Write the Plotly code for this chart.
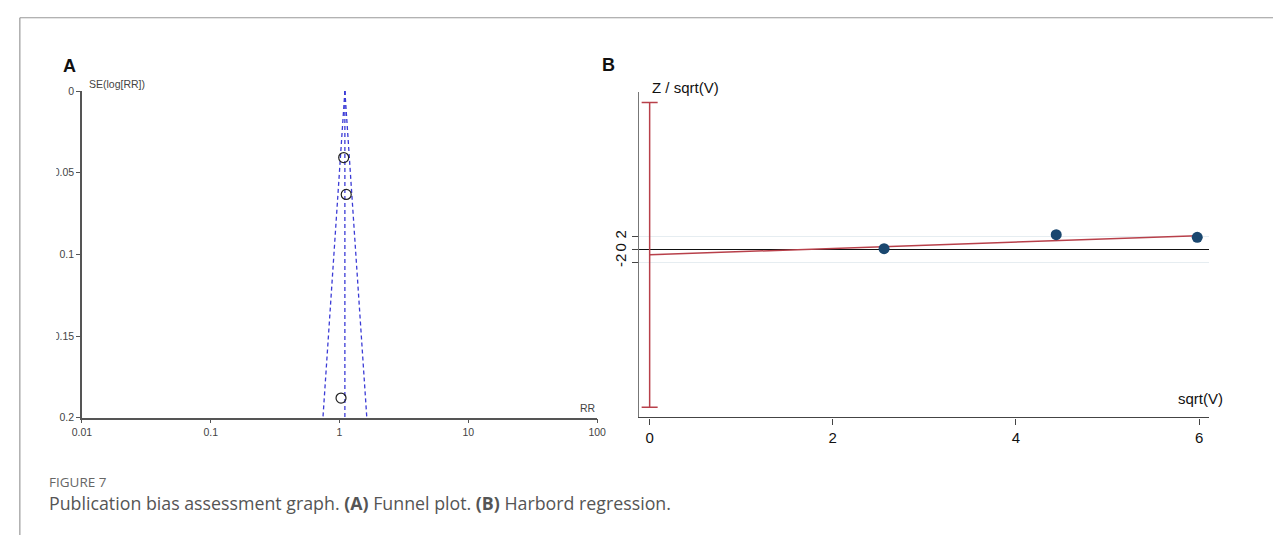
import numpy as np
import plotly.graph_objects as go

# ---------------- Panel A: funnel plot data ----------------
study_rr = [1.077, 1.127, 1.027]
study_se = [0.0407, 0.0633, 0.188]
pooled_rr = 1.10
se_range = [0.0, 0.2]
a_xticks = [0.01, 0.1, 1, 10, 100]
a_xticklabels = ["0.01", "0.1", "1", "10", "100"]
a_yticks = [0, 0.05, 0.1, 0.15, 0.2]
a_yticklabels = ["0", "0.05", "0.1", "0.15", "0.2"]

# ---------------- Panel B: Harbord regression data ----------------
sqrt_v = [2.56, 4.44, 5.98]
z_over_sqrt_v = [0.15, 2.3, 1.9]
intercept = -0.8
intercept_ci = [-24.25, 22.65]
slope = 0.493
b_xticks = [0, 2, 4, 6]
b_yticks = [-2, 0, 2]
b_yticklabels = ["-2", "0", "2"]

W, H = 1282, 541


def px(x):
    return x / W


def py(y):
    return 1 - y / H


fig = go.Figure()

# funnel lines (pseudo 95% CI) computed from pooled estimate
se_line = np.array(se_range)
lo = np.exp(np.log(pooled_rr) - 1.96 * se_line)
hi = np.exp(np.log(pooled_rr) + 1.96 * se_line)
blue = "#3b3bd6"
dash = "4px,3px"
for xs in (lo, hi, [pooled_rr, pooled_rr]):
    fig.add_trace(go.Scatter(x=xs, y=se_line, mode="lines", line=dict(color=blue, width=1.3, dash=dash),
                             xaxis="x", yaxis="y", showlegend=False, hoverinfo="skip"))
fig.add_trace(go.Scatter(x=study_rr, y=study_se, mode="markers",
                         marker=dict(symbol="circle-open", size=10, color="#222222", line=dict(width=1.2)),
                         xaxis="x", yaxis="y", showlegend=False))

# Panel B traces
red = "#b8404a"
fig.add_trace(go.Scatter(x=[0], y=[intercept], mode="lines",
                         error_y=dict(type="data", symmetric=False,
                                      array=[intercept_ci[1] - intercept],
                                      arrayminus=[intercept - intercept_ci[0]],
                                      color=red, thickness=1.5, width=8),
                         xaxis="x2", yaxis="y2", showlegend=False, hoverinfo="skip"))
fit_x = np.array([0, max(sqrt_v)])
fig.add_trace(go.Scatter(x=fit_x, y=intercept + slope * fit_x, mode="lines",
                         line=dict(color=red, width=1.5),
                         xaxis="x2", yaxis="y2", showlegend=False, hoverinfo="skip"))
fig.add_trace(go.Scatter(x=sqrt_v, y=z_over_sqrt_v, mode="markers",
                         marker=dict(size=11, color="#1a476f"),
                         xaxis="x2", yaxis="y2", showlegend=False))

axfont = dict(family="Arial, Liberation Sans, sans-serif", size=10.5, color="#444")
bfont = dict(family="Arial, Liberation Sans, sans-serif", size=15, color="#111")

fig.update_layout(
    width=W, height=H, autosize=False,
    margin=dict(l=0, r=0, t=0, b=0),
    paper_bgcolor="white", plot_bgcolor="white",
    xaxis=dict(domain=[px(73), px(596)], type="log", range=[-2, 2], anchor="y",
               tickvals=a_xticks, ticktext=a_xticklabels, showgrid=False, zeroline=False,
               showline=True, linecolor="#555", linewidth=1.5, ticks="outside", ticklen=4,
               tickcolor="#555", tickwidth=1.2, tickfont=axfont),
    yaxis=dict(domain=[py(421), py(87)], range=[0.2, 0], autorange=False, anchor="x",
               tickvals=a_yticks, ticktext=a_yticklabels, showgrid=False, zeroline=False,
               showline=True, linecolor="#555", linewidth=1.5, ticks="outside", ticklen=4,
               tickcolor="#555", tickwidth=1.2, tickfont=axfont),
    xaxis2=dict(domain=[px(638.3), px(1217)], range=[-0.118, 6.108], anchor="y2",
                tickvals=b_xticks, showgrid=False, zeroline=False,
                showline=True, linecolor="#444", linewidth=1.3, ticks="outside", ticklen=6,
                tickcolor="#444", tickwidth=1.2, tickfont=bfont),
    yaxis2=dict(domain=[py(420.7), py(88.3)], range=[-25.8, 24.2], anchor="x2",
                tickvals=b_yticks, ticktext=b_yticklabels, showgrid=True, gridcolor="#e6edf1", gridwidth=1,
                zeroline=True, zerolinecolor="#111", zerolinewidth=1.3,
                showline=True, linecolor="#777", linewidth=1, ticks="outside", ticklen=6,
                tickcolor="#444", tickwidth=1.2, tickangle=-90, tickfont=bfont),
)

ann = []
ann.append(dict(x=px(78), y=py(80), xref="paper", yref="paper", text="SE(log[RR])", showarrow=False,
                xanchor="left", yanchor="middle", font=axfont))
ann.append(dict(x=px(587), y=py(411), xref="paper", yref="paper", text="RR", showarrow=False,
                xanchor="center", yanchor="middle", font=axfont))
ann.append(dict(x=px(52), y=py(61), xref="paper", yref="paper", text="<b>A</b>", showarrow=False,
                xanchor="left", yanchor="middle",
                font=dict(family="Arial, Liberation Sans, sans-serif", size=18, color="#111")))
ann.append(dict(x=px(599), y=py(60), xref="paper", yref="paper", text="<b>B</b>", showarrow=False,
                xanchor="left", yanchor="middle",
                font=dict(family="Arial, Liberation Sans, sans-serif", size=18, color="#111")))
ann.append(dict(x=px(650), y=py(83), xref="paper", yref="paper", text="Z / sqrt(V)", showarrow=False,
                xanchor="left", yanchor="middle", font=bfont))
ann.append(dict(x=px(1233), y=py(401), xref="paper", yref="paper", text="sqrt(V)", showarrow=False,
                xanchor="right", yanchor="middle", font=bfont))
ann.append(dict(x=px(38), y=py(487), xref="paper", yref="paper", text="FIGURE 7", showarrow=False,
                xanchor="left", yanchor="middle",
                font=dict(family="Open Sans, Noto Sans, sans-serif", size=13.5, color="#666")))
ann.append(dict(x=px(38), y=py(508), xref="paper", yref="paper",
                text="Publication bias assessment graph. <b>(A)</b> Funnel plot. <b>(B)</b> Harbord regression.",
                showarrow=False, xanchor="left", yanchor="middle",
                font=dict(family="Open Sans, Noto Sans, sans-serif", size=17.8, color="#555")))
fig.update_layout(annotations=ann)

shapes = [
    # clip of the left-most tick label characters in panel A
    dict(type="rect", xref="paper", yref="paper", x0=px(12), x1=px(47), y0=py(440), y1=py(60),
         fillcolor="white", line=dict(width=0), layer="above"),
    # figure frame
    dict(type="line", xref="paper", yref="paper", x0=px(10), x1=px(10), y0=py(12), y1=0,
         line=dict(color="#999", width=1.2), layer="above"),
    dict(type="line", xref="paper", yref="paper", x0=px(10), x1=1, y0=py(12), y1=py(12),
         line=dict(color="#999", width=1.2), layer="above"),
]
fig.update_layout(shapes=shapes)

fig.write_html("out.html", config={"displayModeBar": False},
               post_script="document.body.style.margin='0';document.body.style.overflow='hidden';")
